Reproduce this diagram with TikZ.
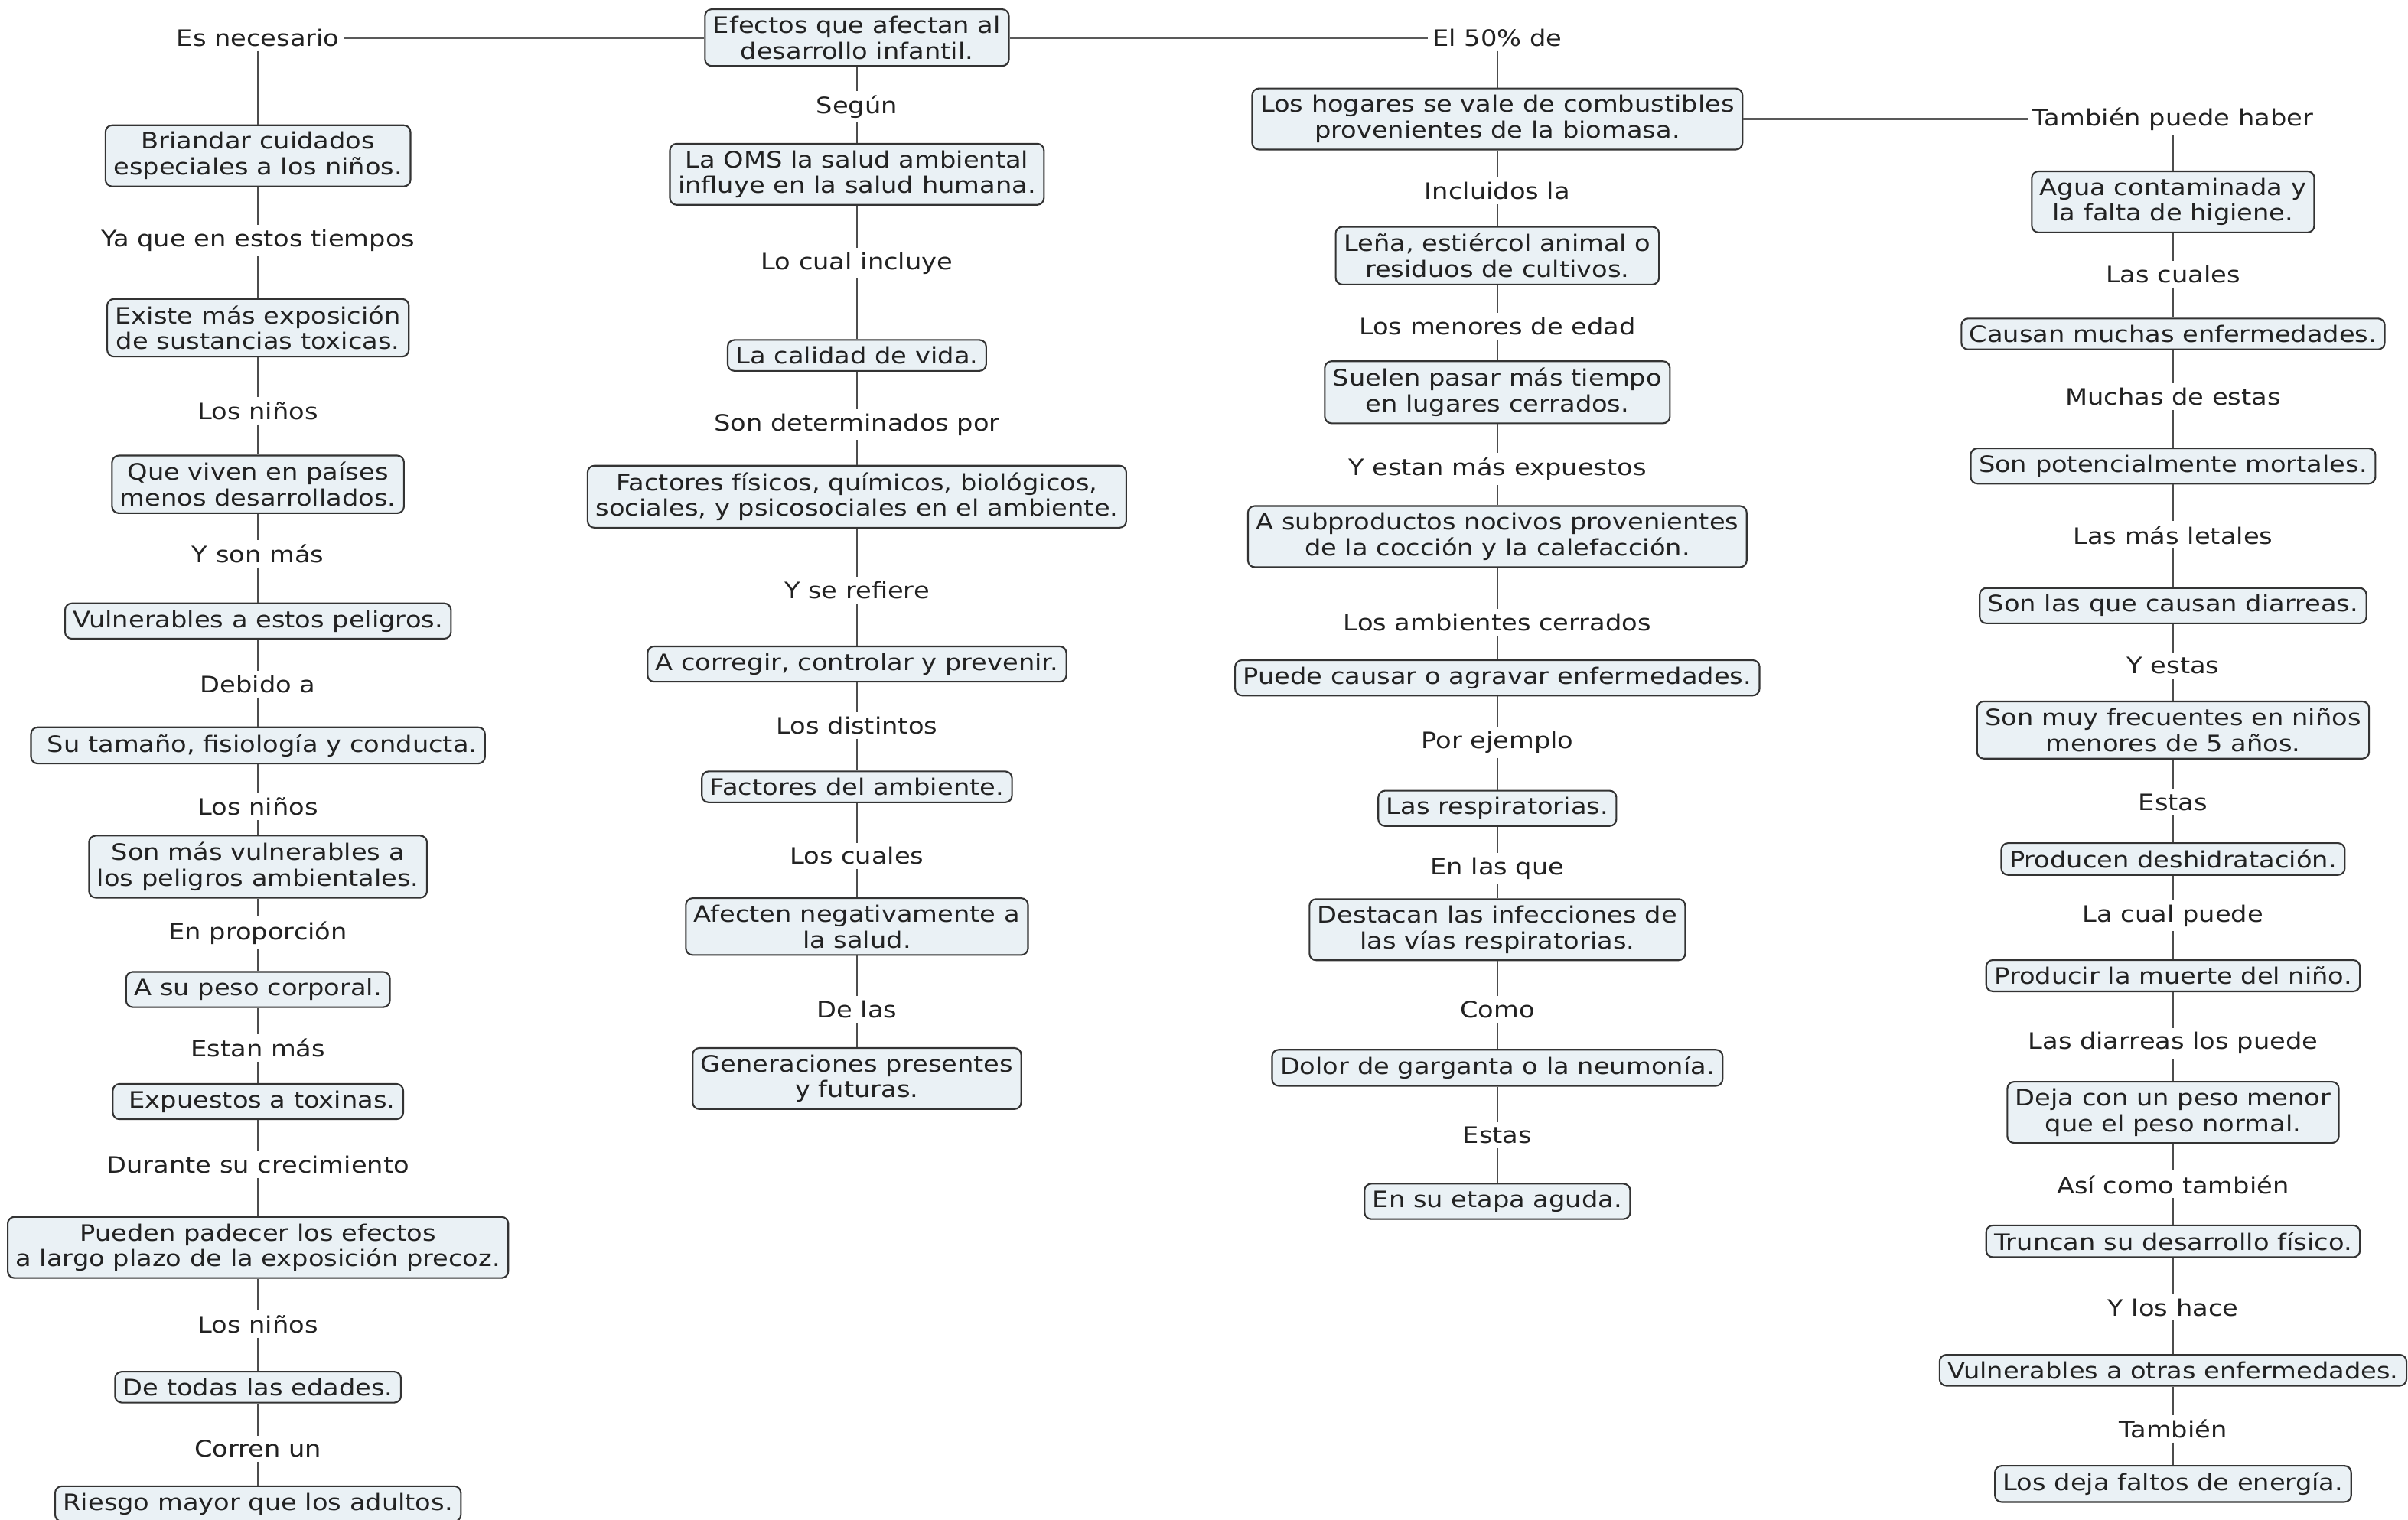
\documentclass[tikz,border=0pt]{standalone}
\usepackage{fontspec}
\setmainfont{DejaVu Sans}[FakeStretch=1.14]
\newcommand\dfs{\fontsize{8.4}{9.6}\selectfont}
\definecolor{boxfill}{HTML}{EAF1F5}
\definecolor{txt}{HTML}{222222}
\begin{document}
\begin{tikzpicture}[x=0.02007cm,y=-0.02007cm,
  box/.style={draw=black!80, fill=boxfill, rounded corners=2.5pt, line width=0.6pt, align=center, inner xsep=3pt, inner ysep=2.5pt, font=\dfs, text=txt},
  lab/.style={inner sep=1.5pt, font=\dfs, text=txt},
  conn/.style={draw=black!70, line width=0.5pt},
  rconn/.style={draw=black!65, line width=0.9pt}]
\useasboundingbox (0,0) rectangle (1568,990);
% root
\node[box] (root) at (558,24.5) {Efectos que afectan al\\desarrollo infantil.};
% column A
\node[lab] (esn) at (168,24.5) {Es necesario};
\node[box] (a1) at (168,101.5) {Briandar cuidados\\especiales a los niños.};
\node[lab] (al1) at (168,156.5) {Ya que en estos tiempos};
\node[box] (a2) at (168,213.5) {Existe más exposición\\de sustancias toxicas.};
\node[lab] (al2) at (168,267.5) {Los niños};
\node[box] (a3) at (168,315.5) {Que viven en países\\menos desarrollados.};
\node[lab] (al3) at (168,360.5) {Y son más};
\node[box] (a4) at (168,404.5) {Vulnerables a estos peligros.};
\node[lab] (al4) at (168,445.5) {Debido a\hspace{6pt}};
\node[box] (a5) at (168,485.5) {\ Su tamaño, fisiología y conducta.};
\node[lab] (al5) at (168,525.5) {Los niños};
\node[box] (a6) at (168,564.5) {Son más vulnerables a\\los peligros ambientales.};
\node[lab] (al6) at (168,607.5) {En proporción};
\node[box] (a7) at (168,644.5) {A su peso corporal.};
\node[lab] (al7) at (168,682.5) {Estan más};
\node[box] (a8) at (168,717.5) {\ Expuestos a toxinas.};
\node[lab] (al8) at (168,758.5) {Durante su crecimiento};
\node[box] (a9) at (168,812.5) {Pueden padecer los efectos\\a largo plazo de la exposición precoz.};
\node[lab] (al9) at (168,862.5) {Los niños};
\node[box] (a10) at (168,903.5) {De todas las edades.};
\node[lab] (al10) at (168,943.5) {Corren un};
\node[box] (a11) at (168,979.5) {Riesgo mayor que los adultos.};
% column B
\node[lab] (bl0) at (558,69.5) {Según};
\node[box] (b1) at (558,113.5) {La OMS la salud ambiental\\influye en la salud humana.};
\node[lab] (bl1) at (558,171.5) {Lo cual incluye};
\node[box] (b2) at (558,231.5) {La calidad de vida.};
\node[lab] (bl2) at (558,276.5) {Son determinados por};
\node[box] (b3) at (558,323.5) {Factores físicos, químicos, biológicos,\\sociales, y psicosociales en el ambiente.};
\node[lab] (bl3) at (558,384.5) {Y se refiere};
\node[box] (b4) at (558,432.5) {A corregir, controlar y prevenir.};
\node[lab] (bl4) at (558,472.5) {Los distintos};
\node[box] (b5) at (558,512.5) {Factores del ambiente.};
\node[lab] (bl5) at (558,557.5) {Los cuales};
\node[box] (b6) at (558,603.5) {Afecten negativamente a\\la salud.};
\node[lab] (bl6) at (558,657.5) {De las};
\node[box] (b7) at (558,702.5) {Generaciones presentes\\y futuras.};
% column C
\node[lab] (cl0) at (975,24.5) {El 50\% de};
\node[box] (c1) at (975,77.5) {Los hogares se vale de combustibles\\provenientes de la biomasa.};
\node[lab] (cl1) at (975,124.5) {Incluidos la};
\node[box] (c2) at (975,166.5) {Leña, estiércol animal o\\residuos de cultivos.};
\node[lab] (cl2) at (975,212.5) {Los menores de edad};
\node[box] (c3) at (975,255.5) {Suelen pasar más tiempo\\en lugares cerrados.};
\node[lab] (cl3) at (975,305.5) {Y estan más expuestos};
\node[box] (c4) at (975,349.5) {A subproductos nocivos provenientes\\de la cocción y la calefacción.};
\node[lab] (cl4) at (975,405.5) {Los ambientes cerrados};
\node[box] (c5) at (975,441.5) {Puede causar o agravar enfermedades.};
\node[lab] (cl5) at (975,483.5) {Por ejemplo};
\node[box] (c6) at (975,526.5) {Las respiratorias.};
\node[lab] (cl6) at (975,565.5) {En las que};
\node[box] (c7) at (975,605.5) {Destacan las infecciones de\\las vías respiratorias.};
\node[lab] (cl7) at (975,657.5) {Como};
\node[box] (c8) at (975,695.5) {Dolor de garganta o la neumonía.};
\node[lab] (cl8) at (975,739.5) {Estas};
\node[box] (c9) at (975,782.5) {En su etapa aguda.};
% column D
\node[lab] (dl0) at (1415,77.5) {También puede haber};
\node[box] (d1) at (1415,131.5) {Agua contaminada y\\la falta de higiene.};
\node[lab] (dl1) at (1415,178.5) {Las cuales};
\node[box] (d2) at (1415,217.5) {Causan muchas enfermedades.};
\node[lab] (dl2) at (1415,258.5) {Muchas de estas};
\node[box] (d3) at (1415,303.5) {Son potencialmente mortales.};
\node[lab] (dl3) at (1415,348.5) {Las más letales};
\node[box] (d4) at (1415,394.5) {Son las que causan diarreas.};
\node[lab] (dl4) at (1415,433.5) {Y estas};
\node[box] (d5) at (1415,475.5) {Son muy frecuentes en niños\\menores de 5 años.};
\node[lab] (dl5) at (1415,522.5) {Estas};
\node[box] (d6) at (1415,559.5) {Producen deshidratación.};
\node[lab] (dl6) at (1415,596.5) {La cual puede};
\node[box] (d7) at (1415,635.5) {Producir la muerte del niño.};
\node[lab] (dl7) at (1415,679.5) {Las diarreas los puede};
\node[box] (d8) at (1415,724.5) {Deja con un peso menor\\que el peso normal.};
\node[lab] (dl8) at (1415,771.5) {Así como también};
\node[box] (d9) at (1415,808.5) {Truncan su desarrollo físico.};
\node[lab] (dl9) at (1415,851.5) {Y los hace};
\node[box] (d10) at (1415,892.5) {Vulnerables a otras enfermedades.};
\node[lab] (dl10) at (1415,930.5) {También};
\node[box] (d11) at (1415,966.5) {Los deja faltos de energía.};
% connectors
\draw[rconn] (root) -- (esn);
\draw[rconn] (root) -- (cl0);
\draw[rconn] (c1) -- (dl0);
\foreach \p/\q in {esn/a1,a1/al1,al1/a2,a2/al2,al2/a3,a3/al3,al3/a4,a4/al4,al4/a5,a5/al5,al5/a6,a6/al6,al6/a7,a7/al7,al7/a8,a8/al8,al8/a9,a9/al9,al9/a10,a10/al10,al10/a11,
  root/bl0,bl0/b1,b1/bl1,bl1/b2,b2/bl2,bl2/b3,b3/bl3,bl3/b4,b4/bl4,bl4/b5,b5/bl5,bl5/b6,b6/bl6,bl6/b7,
  cl0/c1,c1/cl1,cl1/c2,c2/cl2,cl2/c3,c3/cl3,cl3/c4,c4/cl4,cl4/c5,c5/cl5,cl5/c6,c6/cl6,cl6/c7,c7/cl7,cl7/c8,c8/cl8,cl8/c9,
  dl0/d1,d1/dl1,dl1/d2,d2/dl2,dl2/d3,d3/dl3,dl3/d4,d4/dl4,dl4/d5,d5/dl5,dl5/d6,d6/dl6,dl6/d7,d7/dl7,dl7/d8,d8/dl8,dl8/d9,d9/dl9,dl9/d10,d10/dl10,dl10/d11}
  \draw[conn] (\p) -- (\q);
\end{tikzpicture}
\end{document}
